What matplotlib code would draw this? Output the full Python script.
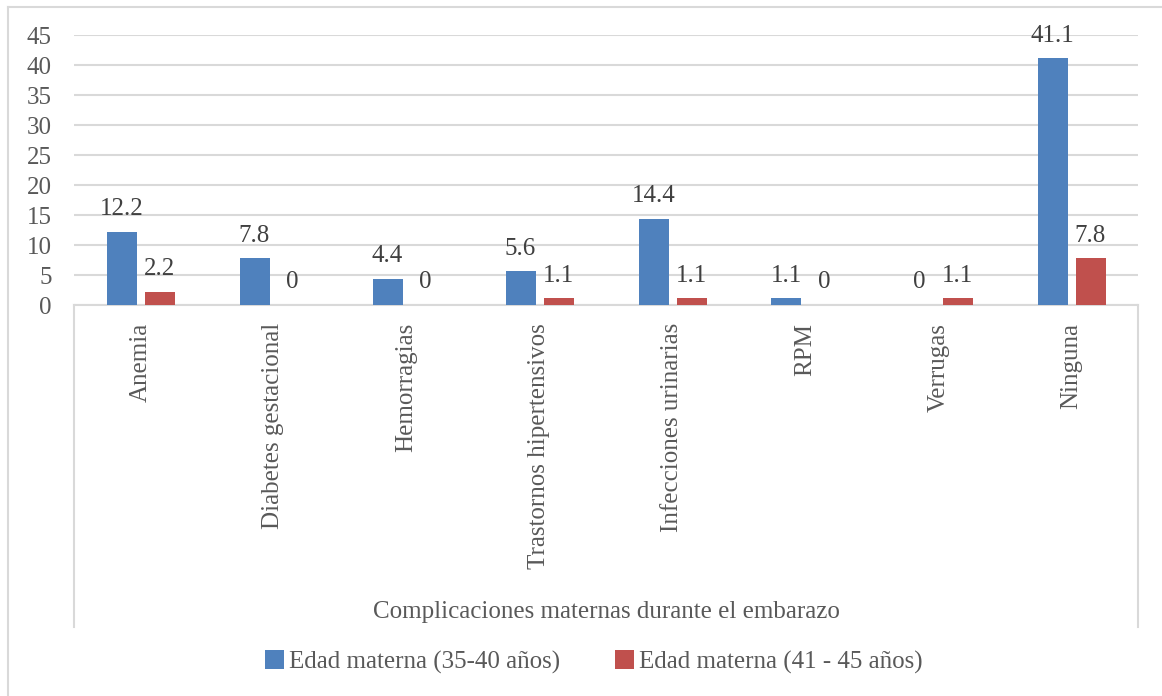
import matplotlib
matplotlib.use("Agg")
import matplotlib.pyplot as plt
from matplotlib.patches import Patch
from matplotlib.lines import Line2D
import numpy as np

categories = ["Anemia", "Diabetes gestacional", "Hemorragias", "Trastornos hipertensivos",
              "Infecciones urinarias", "RPM", "Verrugas", "Ninguna"]
serie_35_40 = [12.2, 7.8, 4.4, 5.6, 14.4, 1.1, 0, 41.1]
serie_41_45 = [2.2, 0, 0, 1.1, 1.1, 0, 1.1, 7.8]
series_names = ["Edad materna (35-40 años)", "Edad materna (41 - 45 años)"]
y_ticks = [0, 5, 10, 15, 20, 25, 30, 35, 40, 45]
axis_title = "Complicaciones maternas durante el embarazo"

plt.rcParams['font.family'] = ['Liberation Serif', 'DejaVu Serif']
W, H = 1162, 696
fig = plt.figure(figsize=(W / 100, H / 100), dpi=100)
ax = fig.add_axes([74 / W, 1 - 305 / H, (1138 - 74) / W, (305 - 35) / H])

blue = "#4F81BD"
red = "#C0504D"
txt = "#404040"
grid = "#D9D9D9"
FS = 18

x = np.arange(len(categories))
bw = 30 / 133
off = 19 / 133
b1 = ax.bar(x - off, serie_35_40, bw, color=blue, zorder=3)
b2 = ax.bar(x + off, serie_41_45, bw, color=red, zorder=3)
for bars, vals in ((b1, serie_35_40), (b2, serie_41_45)):
    for rect, v in zip(bars, vals):
        ax.annotate(f"{v:g}", (rect.get_x() + rect.get_width() / 2, v),
                    xytext=(0, 12), textcoords="offset points",
                    ha="center", va="baseline", fontsize=FS, color=txt)

ax.set_xlim(-0.5, len(categories) - 0.5)
ax.set_ylim(0, 45)
ax.set_yticks(y_ticks)
ax.set_yticklabels([str(t) for t in y_ticks], fontsize=FS, color="#595959")
ax.set_xticks(x)
ax.set_xticklabels(categories, rotation=90, fontsize=FS, color="#595959", va="top", ha="center")
ax.tick_params(axis="both", length=0)
ax.tick_params(axis="y", pad=16)
ax.tick_params(axis="x", pad=13)
ax.yaxis.grid(True, color=grid, linewidth=1.5, zorder=0)
for s in ("top", "right", "left"):
    ax.spines[s].set_visible(False)
ax.spines["bottom"].set_color(grid)
ax.spines["bottom"].set_linewidth(1.5)

# multi-level category box lines
yb = -(627 - 305) / (305 - 35)
for xa in (0, 1):
    ax.plot([xa, xa], [0, yb], transform=ax.transAxes, color=grid, lw=1.5, clip_on=False)

fig.text(606 / W, 1 - 612 / H, axis_title, ha="center", va="center", fontsize=FS, color="#595959")

handles = [Patch(facecolor=blue), Patch(facecolor=red)]
fig.legend(handles, series_names, loc="center", bbox_to_anchor=(594 / W, 1 - 662 / H),
           ncol=2, frameon=False, fontsize=FS, labelcolor="#595959",
           handlelength=0.75, handleheight=0.75, handletextpad=0.2, columnspacing=2.2)

# outer chart border
fig.add_artist(Line2D([8 / W, 8 / W], [0, 1 - 7 / H], color=grid, lw=1.5))
fig.add_artist(Line2D([8 / W, 1], [1 - 7 / H, 1 - 7 / H], color=grid, lw=1.5))

fig.savefig("out.png", dpi=100, facecolor="white")
